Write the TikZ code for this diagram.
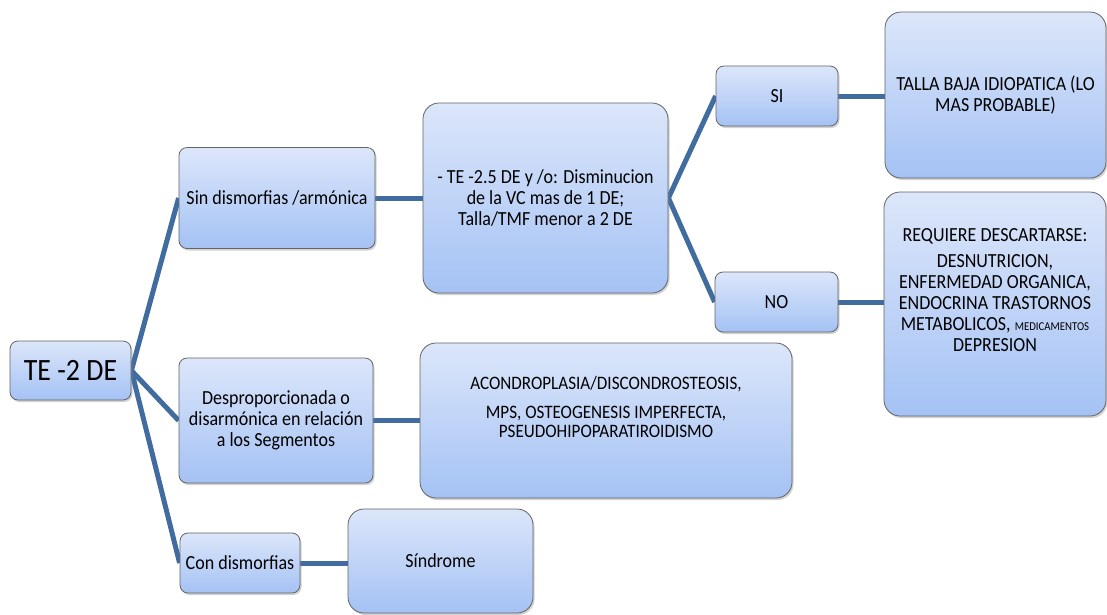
\documentclass[tikz,border=0pt]{standalone}
\usepackage{fontspec}
\setmainfont{Carlito}[FakeStretch=0.9]
\usetikzlibrary{shadows,backgrounds,calc}
\definecolor{boxtop}{RGB}{220,230,250}
\definecolor{boxbot}{RGB}{164,194,244}
\definecolor{boxline}{RGB}{100,100,100}
\definecolor{connc}{RGB}{65,108,160}
\tikzset{
  box/.style={draw=boxline, line width=0.8pt, top color=boxtop, bottom color=boxbot,
    rounded corners=8pt, align=center, inner sep=0pt, text=black,
    font=\fontsize{20}{21}\selectfont,
    drop shadow={shadow xshift=1.5pt, shadow yshift=-2pt, opacity=0.35}},
  bigbox/.style={box, rounded corners=16pt},
  link/.style={draw=connc, line width=5pt},
  txt/.style={align=center, inner sep=0pt, text=black, font=\fontsize{20}{21}\selectfont},
}
\begin{document}
\begin{tikzpicture}[x=1pt,y=-1pt]
\useasboundingbox (0,0) rectangle (1107,614);
% level 0
\node[box, minimum width=121pt, minimum height=59pt, font=\fontsize{31}{33}\selectfont] (root) at (70.5,370.5) {TE -2 DE};
% level 1
\node[box, minimum width=196pt, minimum height=101pt] (sin) at (277,198) {Sin dismorfias /armónica};
\node[box, minimum width=194pt, minimum height=125pt] (desp) at (276,420.5) {Desproporcionada o\\disarmónica en relación\\a los Segmentos};
\node[box, minimum width=120pt, minimum height=60pt] (con) at (240,563) {Con dismorfias};
% level 2
\node[bigbox, minimum width=245pt, minimum height=190pt] (mid) at (545.5,198) {- TE -2.5 DE y /o: Disminucion\\de la VC mas de 1 DE;\\Talla/TMF menor a 2 DE};
\node[bigbox, minimum width=372pt, minimum height=155pt] (acon) at (606,420.5) {};
\node[txt, font=\fontsize{19}{19.5}\selectfont] (acontext) at (606,407) {ACONDROPLASIA/DISCONDROSTEOSIS,\\[9pt]MPS, OSTEOGENESIS IMPERFECTA,\\PSEUDOHIPOPARATIROIDISMO};
\node[bigbox, minimum width=185pt, minimum height=104pt] (sind) at (440.5,561) {Síndrome};
% level 3
\node[box, minimum width=122pt, minimum height=60pt] (si) at (777,96) {SI};
\node[box, minimum width=123pt, minimum height=60pt] (no) at (776.5,302) {NO};
% level 4
\node[bigbox, minimum width=221pt, minimum height=166pt] (talla) at (995.5,95) {TALLA BAJA IDIOPATICA (LO\\MAS PROBABLE)};
\node[bigbox, minimum width=222pt, minimum height=224pt] (req) at (995,304) {};
\node[txt] (reqtext) at (995,290) {REQUIERE DESCARTARSE:\\[5pt]DESNUTRICION,\\ENFERMEDAD ORGANICA,\\ENDOCRINA TRASTORNOS\\METABOLICOS, {\fontsize{12}{12}\selectfont MEDICAMENTOS}\\DEPRESION};
% connectors
\begin{scope}[on background layer]
\fill[white] (0,0) rectangle (1107,614);
\draw[link] (root.east) -- (sin.west);
\draw[link] (root.east) -- (desp.west);
\draw[link] (root.east) -- (con.west);
\draw[link] (sin.east) -- (sin.east -| mid.west);
\draw[link] (desp.east) -- (desp.east -| acon.west);
\draw[link] (con.east) -- (con.east -| sind.west);
\draw[link] (mid.east) -- (si.west);
\draw[link] (mid.east) -- (no.west);
\draw[link] (si.east) -- (si.east -| talla.west);
\draw[link] (no.east) -- (no.east -| req.west);
\end{scope}
\end{tikzpicture}
\end{document}
